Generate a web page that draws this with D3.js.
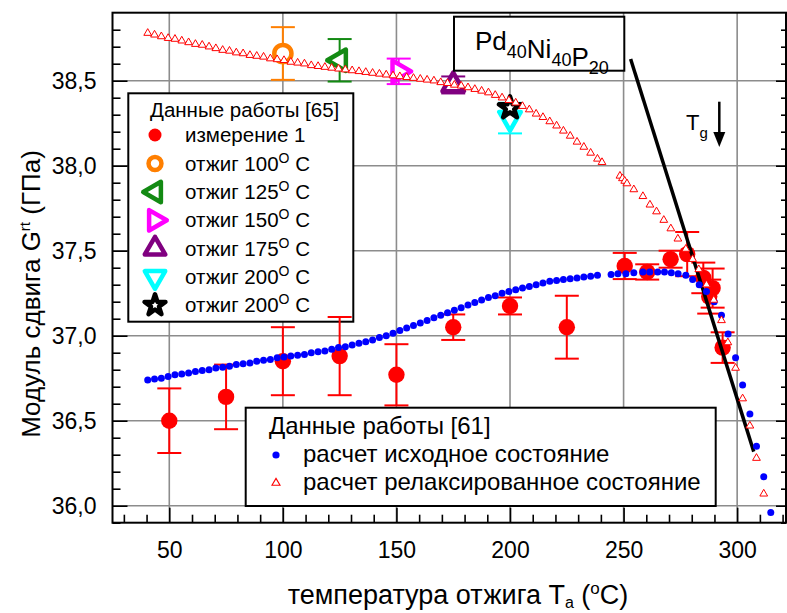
<!DOCTYPE html>
<html><head><meta charset="utf-8">
<script src="https://cdn.jsdelivr.net/npm/d3@7"></script>
<style>
body{margin:0;background:#fff}
svg text{font-family:"Liberation Sans",Arial,sans-serif;fill:#000}
</style></head><body>
<svg id="chart" width="787" height="613"></svg>
<script>
// Measurement 1, work [65]: annealing temperature (°C), shear modulus (GPa), error
const measT   = [50, 75, 100, 125, 150, 175, 200, 225, 250.5, 260.4, 270.7, 278, 285.1, 289.2, 287.7, 293.6];
const measG   = [36.50, 36.64, 36.85, 36.88, 36.77, 37.05, 37.175, 37.05, 37.41, 37.375, 37.45, 37.48, 37.34, 37.28, 37.23, 36.93];
const measErr = [0.19, 0.19, 0.20, 0.23, 0.18, 0.075, 0.05, 0.185, 0.077, 0.045, 0.05, 0.13, 0.09, 0.115, 0.10, 0.09];

// Annealed samples, work [65]
const annealLabels = ["отжиг 100", "отжиг 125", "отжиг 150", "отжиг 175", "отжиг 200", "отжиг 200"];
const annealT   = [100, 125, 151, 175, 200, 200];
const annealG   = [38.66, 38.62, 38.555, 38.475, 38.28, 38.34];
const annealErr = [0.155, 0.125, 0.075, 0.05, 0.09, 0];

// Calculation, initial state, work [61]
const initT = [40.5, 43.5, 46.5, 49.5, 52.5, 55.5, 58.5, 61.5, 64.5, 67.5, 70.5, 73.5, 76.5, 79.5, 82.5, 85.5, 88.5, 91.5, 94.5, 97.5,
  100.5, 103.5, 106.5, 109.5, 112.5, 115.5, 118.5, 121.5, 124.5, 127.5, 130.5, 133.5, 136.5, 139.5, 142.5, 145.5, 148.5, 151.5, 154.5, 157.5,
  160.5, 163.5, 166.5, 169.5, 172.5, 175.5, 178.5, 181.5, 184.5, 187.5, 190.5, 193.5, 196.5, 199.5, 202.5, 205.5, 208.5, 211.5, 214.5, 217.5,
  220.5, 223.5, 226.5, 229.5, 232.5, 235.5, 238.5, 244.5, 247.5, 251, 254.5, 258.5, 261.5, 265, 268, 271, 274, 277.4, 280.4, 283.3,
  286.5, 289.9, 293.1, 296, 299.3, 302.4, 305.6, 308.5, 311.7, 314.8];
const initG = [36.74, 36.745, 36.75, 36.76, 36.77, 36.775, 36.78, 36.79, 36.795, 36.80, 36.81, 36.815, 36.82, 36.83, 36.835, 36.84, 36.85, 36.855, 36.86, 36.87,
  36.875, 36.88, 36.885, 36.89, 36.90, 36.905, 36.91, 36.92, 36.93, 36.935, 36.945, 36.955, 36.965, 36.975, 36.99, 37.00, 37.015, 37.03, 37.045, 37.06,
  37.075, 37.09, 37.105, 37.12, 37.135, 37.15, 37.165, 37.18, 37.195, 37.21, 37.225, 37.235, 37.25, 37.26, 37.27, 37.28, 37.29, 37.30, 37.31, 37.32,
  37.325, 37.33, 37.335, 37.34, 37.345, 37.35, 37.355, 37.36, 37.365, 37.365, 37.37, 37.375, 37.375, 37.375, 37.375, 37.37, 37.365, 37.355, 37.33, 37.30,
  37.26, 37.20, 37.12, 37.01, 36.87, 36.71, 36.54, 36.35, 36.17, 35.96];

// Calculation, relaxed state, work [61]
const relaxT = [40.5, 43.5, 46.5, 49.5, 52.5, 55.5, 58.5, 61.5, 64.5, 67.5, 70.5, 73.5, 76.5, 79.5, 82.5, 85.5, 88.5, 91.5, 94.5, 97.5,
  100.5, 103.5, 106.5, 109.5, 112.5, 115.5, 118.5, 121.5, 124.5, 127.5, 130.5, 133.5, 136.5, 139.5, 142.5, 145.5, 148.5, 151.5, 154.5, 157.5,
  160.5, 163.5, 166.5, 169.5, 172.5, 175.5, 178.5, 181.5, 184.5, 187.5, 190.5, 193.5, 196.5, 199.5, 202.5, 205.5, 208.5, 211.5, 214.5, 217.5,
  220.5, 223.5, 226.5, 229.5, 232.5, 235.5, 238.5, 240.5, 248.4, 249.5, 250.5, 251.5, 254.5, 258.5, 261.6, 264.5, 267.7, 270.8, 273.9, 277.4,
  280.4, 283.1, 286.5, 289.7, 293.1, 295.9, 299.3, 302.4, 305.6, 308.5, 311.7];
const relaxG = [38.78, 38.77, 38.76, 38.75, 38.745, 38.735, 38.725, 38.715, 38.71, 38.70, 38.69, 38.68, 38.675, 38.665, 38.66, 38.65, 38.645, 38.64, 38.63, 38.625,
  38.62, 38.61, 38.605, 38.60, 38.59, 38.585, 38.58, 38.575, 38.57, 38.565, 38.56, 38.555, 38.55, 38.545, 38.54, 38.535, 38.53, 38.525, 38.52, 38.515,
  38.51, 38.505, 38.50, 38.49, 38.485, 38.475, 38.47, 38.46, 38.45, 38.44, 38.43, 38.415, 38.40, 38.385, 38.37, 38.35, 38.33, 38.305, 38.285, 38.26,
  38.235, 38.205, 38.175, 38.14, 38.11, 38.075, 38.04, 38.02, 37.94, 37.925, 37.91, 37.895, 37.86, 37.82, 37.77, 37.73, 37.68, 37.63, 37.57, 37.51,
  37.45, 37.39, 37.30, 37.21, 37.09, 36.96, 36.81, 36.63, 36.47, 36.28, 36.07];

// Guide line near the glass transition: two end points (T, G)
const guideT = [253.1, 307.3];
const guideG = [38.628, 36.318];

const xTicks = [50, 100, 150, 200, 250, 300];
const yTicks = [36.0, 36.5, 37.0, 37.5, 38.0, 38.5];

const svg = d3.select("#chart");
const L = 112.5, R = 786, T = 12.7, B = 522.7;

const x = d3.scaleLinear().domain([25, 321.5]).range([L, R]);
const y = d3.scaleLinear().domain([35.9, 38.9]).range([B, T]);

const xMinor = d3.range(30, 321, 10).filter(v => v % 50 !== 0);
const yMinor = d3.range(359, 389, 1).map(v => v / 10).filter(v => Math.round(v * 10) % 5 !== 0);

// grid
const grid = svg.append("g").attr("stroke", "#8c8c8c").attr("stroke-width", 1.6);
grid.selectAll("line.gx").data(xTicks).join("line")
  .attr("x1", d => x(d)).attr("x2", d => x(d)).attr("y1", T).attr("y2", B);
grid.selectAll("line.gy").data(yTicks).join("line")
  .attr("x1", L).attr("x2", R).attr("y1", d => y(d)).attr("y2", d => y(d));

// axes (ticks point inward)
const fmtY = d => d.toFixed(1).replace(".", ",");
function styleAxis(g) {
  g.select(".domain").remove();
  g.selectAll("line").attr("stroke", "#000").attr("stroke-width", 1.6);
  g.selectAll("text").style("font-size", "23px").attr("fill", "#000");
}
svg.append("g").attr("transform", `translate(0,${B})`)
  .call(d3.axisBottom(x).tickValues(xTicks).tickSize(-15).tickSizeOuter(0).tickPadding(19).tickFormat(d3.format("d"))).call(styleAxis);
svg.append("g").attr("transform", `translate(0,${B})`)
  .call(d3.axisBottom(x).tickValues(xMinor).tickSize(-8).tickSizeOuter(0).tickFormat("")).call(styleAxis);
svg.append("g").attr("transform", `translate(${L},0)`)
  .call(d3.axisLeft(y).tickValues(yTicks).tickSize(-15).tickSizeOuter(0).tickPadding(16).tickFormat(fmtY)).call(styleAxis);
svg.append("g").attr("transform", `translate(${L},0)`)
  .call(d3.axisLeft(y).tickValues(yMinor).tickSize(-8).tickSizeOuter(0).tickFormat("")).call(styleAxis);
svg.append("g").attr("transform", `translate(${R},0)`)
  .call(d3.axisRight(y).tickValues(yTicks).tickSize(-10).tickSizeOuter(0).tickFormat("")).call(styleAxis);
svg.append("g").attr("transform", `translate(${R},0)`)
  .call(d3.axisRight(y).tickValues(yMinor).tickSize(-5).tickSizeOuter(0).tickFormat("")).call(styleAxis);

// frame
svg.append("rect").attr("x", L).attr("y", T).attr("width", R - L).attr("height", B - T)
  .attr("fill", "none").attr("stroke", "#000").attr("stroke-width", 2);

// axis titles
const xt = svg.append("text").attr("x", 458).attr("y", 604).attr("text-anchor", "middle").style("font-size", "27px");
xt.append("tspan").text("температура отжига T");
xt.append("tspan").attr("dy", 4).style("font-size", "16px").text("a");
xt.append("tspan").attr("dy", -4).text(" (");
xt.append("tspan").attr("dy", -10).style("font-size", "17px").text("o");
xt.append("tspan").attr("dy", 10).text("C)");

const yt = svg.append("text").attr("transform", "translate(40,294) rotate(-90)").attr("text-anchor", "middle").style("font-size", "26px");
yt.append("tspan").text("Модуль сдвига G");
yt.append("tspan").attr("dy", -10).style("font-size", "15px").text("rt");
yt.append("tspan").attr("dy", 10).text(" (ГПа)");

// legend boxes sit beneath the data
const leg1 = svg.append("g");
leg1.append("rect").attr("x", 128.3).attr("y", 93.3).attr("width", 225).attr("height", 228.4)
  .attr("fill", "#fff").attr("stroke", "#000").attr("stroke-width", 2);
const leg2 = svg.append("g");
leg2.append("rect").attr("x", 245.7).attr("y", 407.7).attr("width", 470).attr("height", 98.3)
  .attr("fill", "#fff").attr("stroke", "#000").attr("stroke-width", 2);

// marker styles for the annealed samples
const annealStyle = [
  {color: "#ff7f00", type: "circle", rot: 0},
  {color: "#138a13", type: "tri", rot: -90},
  {color: "#ff00ff", type: "tri", rot: 90},
  {color: "#800080", type: "tri", rot: 0},
  {color: "#00ffff", type: "tri", rot: 180},
  {color: "#000000", type: "star", rot: 0}
];
function drawMarker(g, st, cx, cy, scale) {
  let p;
  if (st.type === "circle") {
    p = g.append("circle").attr("cx", cx).attr("cy", cy).attr("r", 8.6 * scale);
  } else if (st.type === "tri") {
    p = g.append("path").attr("d", d3.symbol(d3.symbolTriangle, 200 * scale * scale)())
      .attr("transform", `translate(${cx},${cy}) rotate(${st.rot})`);
  } else {
    p = g.append("path").attr("d", d3.symbol(d3.symbolStar, 150 * scale * scale)())
      .attr("transform", `translate(${cx},${cy})`);
  }
  p.attr("fill", "#fff").attr("stroke", st.color).attr("stroke-width", 4.5).attr("stroke-linejoin", "round");
}

// legend 1 content
leg1.append("text").attr("x", 150).attr("y", 117).style("font-size", "20.5px").text("Данные работы [65]");
const rowY = [135, 163.5, 192, 220.3, 248.6, 277, 305.3];
leg1.append("circle").attr("cx", 155).attr("cy", rowY[0]).attr("r", 6.5).attr("fill", "#ff0000");
leg1.append("text").attr("x", 185).attr("y", rowY[0] + 7).style("font-size", "20.5px").text("измерение 1");
annealLabels.forEach((lab, i) => {
  drawMarker(leg1, annealStyle[i], 155, rowY[i + 1], i === 0 ? 0.75 : 0.95);
  const t = leg1.append("text").attr("x", 185).attr("y", rowY[i + 1] + 7).style("font-size", "20.5px");
  t.append("tspan").text(lab);
  t.append("tspan").attr("dy", -8).style("font-size", "14px").text("O");
  t.append("tspan").attr("dy", 8).text(" С");
});

// legend 2 content
leg2.append("text").attr("x", 269).attr("y", 434).style("font-size", "24px").text("Данные работы [61]");
leg2.append("circle").attr("cx", 276).attr("cy", 455).attr("r", 3.6).attr("fill", "#0000ff");
leg2.append("text").attr("x", 303).attr("y", 462).style("font-size", "24px").text("расчет исходное состояние");
leg2.append("path").attr("d", d3.symbol(d3.symbolTriangle, 28)()).attr("transform", "translate(276,483)")
  .attr("fill", "#fff").attr("stroke", "#ff0000").attr("stroke-width", 1.1);
leg2.append("text").attr("x", 303).attr("y", 490).style("font-size", "24px").text("расчет релаксированное состояние");

// data layer
const data = svg.append("g");

// measurement 1 with error bars
const meas = measT.map((t, i) => ({t, g: measG[i], e: measErr[i]}));
const capW = 12;
const eb = data.append("g").attr("stroke", "#ff0000").attr("stroke-width", 2);
meas.forEach(d => {
  eb.append("line").attr("x1", x(d.t)).attr("x2", x(d.t)).attr("y1", y(d.g - d.e)).attr("y2", y(d.g + d.e));
  eb.append("line").attr("x1", x(d.t) - capW).attr("x2", x(d.t) + capW).attr("y1", y(d.g + d.e)).attr("y2", y(d.g + d.e));
  eb.append("line").attr("x1", x(d.t) - capW).attr("x2", x(d.t) + capW).attr("y1", y(d.g - d.e)).attr("y2", y(d.g - d.e));
});
data.append("g").selectAll("circle").data(meas).join("circle")
  .attr("cx", d => x(d.t)).attr("cy", d => y(d.g)).attr("r", 8.2).attr("fill", "#ff0000");

// annealed samples with error bars
annealT.forEach((t, i) => {
  const st = annealStyle[i], e = annealErr[i], g = annealG[i];
  if (e > 0) {
    const eg = data.append("g").attr("stroke", st.color).attr("stroke-width", 2);
    eg.append("line").attr("x1", x(t)).attr("x2", x(t)).attr("y1", y(g - e)).attr("y2", y(g + e));
    [g - e, g + e].forEach(v => eg.append("line").attr("x1", x(t) - capW).attr("x2", x(t) + capW).attr("y1", y(v)).attr("y2", y(v)));
  }
  drawMarker(data, st, x(t), y(g), 1);
});

// guide line
data.append("line").attr("x1", x(guideT[0])).attr("y1", y(guideG[0])).attr("x2", x(guideT[1])).attr("y2", y(guideG[1]))
  .attr("stroke", "#000").attr("stroke-width", 3.5);

// calculation: initial state
data.append("g").selectAll("circle").data(initT.map((t, i) => [t, initG[i]])).join("circle")
  .attr("cx", d => x(d[0])).attr("cy", d => y(d[1])).attr("r", 3.5).attr("fill", "#0000ff");

// calculation: relaxed state
const tri = d3.symbol(d3.symbolTriangle, 26)();
data.append("g").selectAll("path").data(relaxT.map((t, i) => [t, relaxG[i]])).join("path")
  .attr("d", tri).attr("transform", d => `translate(${x(d[0])},${y(d[1])})`)
  .attr("fill", "#fff").attr("stroke", "#ff0000").attr("stroke-width", 1);

// composition label
svg.append("rect").attr("x", 454).attr("y", 16.7).attr("width", 170.3).attr("height", 54)
  .attr("fill", "#fff").attr("stroke", "#000").attr("stroke-width", 2);
const comp = svg.append("text").attr("x", 475).attr("y", 50).style("font-size", "26px");
[["Pd", "40"], ["Ni", "40"], ["P", "20"]].forEach(([el, n]) => {
  comp.append("tspan").attr("dy", 0).text(el);
  comp.append("tspan").attr("dy", 8).style("font-size", "18px").text(n);
  comp.append("tspan").attr("dy", -8).text("");
});

// Tg marker
const tg = svg.append("text").attr("x", 686).attr("y", 130).style("font-size", "22px");
tg.append("tspan").text("T");
tg.append("tspan").attr("dy", 8).style("font-size", "15px").text("g");
svg.append("line").attr("x1", 719.3).attr("x2", 719.3).attr("y1", 101.7).attr("y2", 136)
  .attr("stroke", "#000").attr("stroke-width", 2.5);
svg.append("path").attr("d", "M713.3,132 L725.3,132 L719.3,147 Z").attr("fill", "#000");
</script>
</body></html>
